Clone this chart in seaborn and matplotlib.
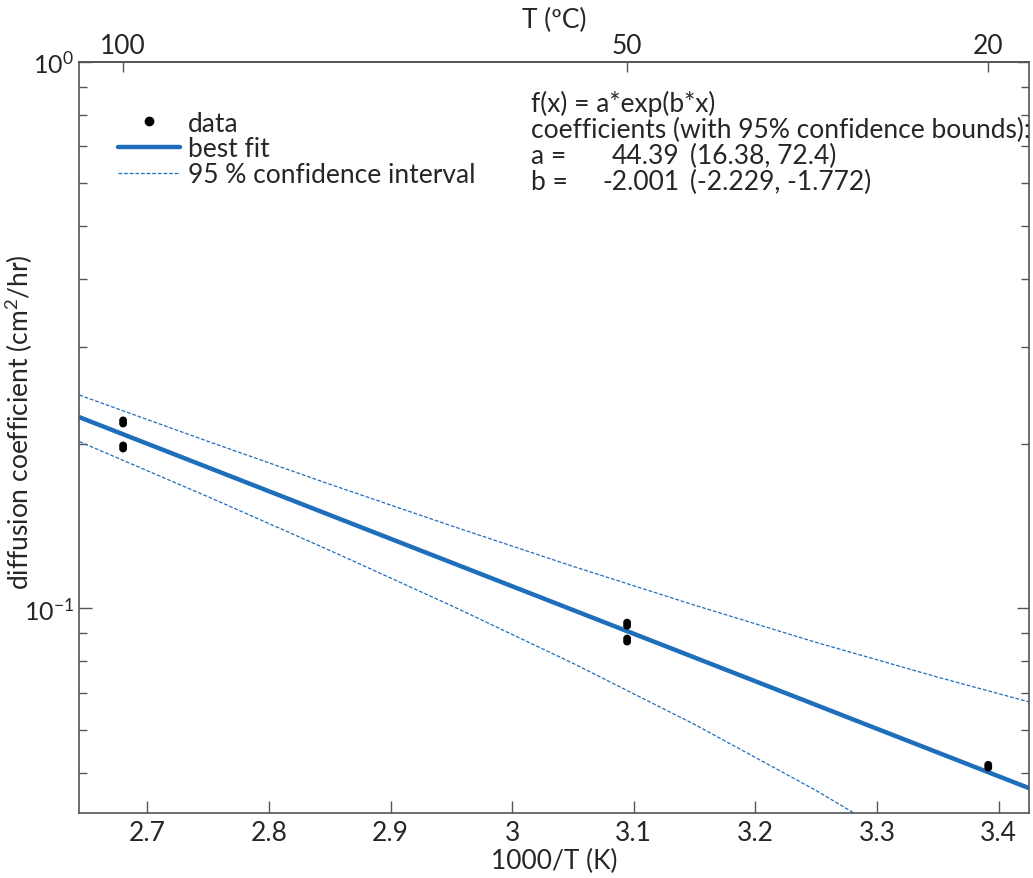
import numpy as np
import pandas as pd
import matplotlib
matplotlib.use("Agg")
import matplotlib.pyplot as plt
import seaborn as sns
from matplotlib.ticker import LogLocator, NullFormatter, FixedLocator, FixedFormatter
from matplotlib.lines import Line2D

# Measured diffusion coefficients vs inverse temperature
inv_T = [2.680, 2.680, 2.680, 2.680,
         3.0945, 3.0945, 3.0945, 3.0945,
         3.3915, 3.3915]
diff_coef = [0.2206, 0.2178, 0.1985, 0.1960,
             0.0941, 0.0929, 0.0880, 0.0869,
             0.0517, 0.0511]

# Exponential fit coefficients f(x) = a*exp(b*x)
fit_a = 44.39
fit_b = -2.001

# 95 % confidence interval bounds of the fit
band_x = [2.644, 2.75, 2.85, 2.95, 3.05, 3.15, 3.25, 3.35, 3.425]
band_upper = [0.2455, 0.2019, 0.1686, 0.1415, 0.1193, 0.1013, 0.0866, 0.0748, 0.0674]
band_lower = [0.2018, 0.1599, 0.1276, 0.1011, 0.0793, 0.0613, 0.0464, 0.0342, 0.0264]

# Celsius tick marks on the top axis
top_tick_pos = [2.680, 3.0945, 3.3915]
top_tick_labels = ["100", "50", "20"]

x_lim = (2.644, 3.425)
y_lim = (0.0422, 1.0)

sns.set_theme(style="white")
plt.rcParams["font.family"] = ["Lato", "DejaVu Sans"]
plt.rcParams["mathtext.fontset"] = "custom"
plt.rcParams["mathtext.rm"] = "Lato"
plt.rcParams["mathtext.default"] = "regular"
plt.rcParams["axes.unicode_minus"] = False

blue = "#1f6ebc"
axis_col = "#555555"
fs = 19

fig = plt.figure(figsize=(10.33, 8.79), dpi=100)
ax = fig.add_axes([0.0768, 0.0739, 0.9961 - 0.0768, 0.9287 - 0.0739])

points = pd.DataFrame({"x": inv_T, "y": diff_coef})
fit_x = np.linspace(x_lim[0], x_lim[1], 60)
fit_df = pd.DataFrame({"x": fit_x, "y": fit_a * np.exp(fit_b * fit_x)})
band_df = pd.DataFrame({"x": band_x, "upper": band_upper, "lower": band_lower})

sns.lineplot(data=band_df, x="x", y="upper", ax=ax, color=blue, lw=0.9,
             dashes=False, linestyle=(0, (3, 1.5)), sort=False)
sns.lineplot(data=band_df, x="x", y="lower", ax=ax, color=blue, lw=0.9,
             dashes=False, linestyle=(0, (3, 1.5)), sort=False)
sns.lineplot(data=fit_df, x="x", y="y", ax=ax, color=blue, lw=3.2, sort=False)
sns.scatterplot(data=points, x="x", y="y", ax=ax, color="black", s=32,
                edgecolor="none", zorder=5)

ax.set_yscale("log")
ax.set_xlim(*x_lim)
ax.set_ylim(*y_lim)

ax.xaxis.set_major_locator(FixedLocator([2.7, 2.8, 2.9, 3.0, 3.1, 3.2, 3.3, 3.4]))
ax.xaxis.set_major_formatter(FixedFormatter(["2.7", "2.8", "2.9", "3", "3.1", "3.2", "3.3", "3.4"]))
ax.yaxis.set_major_locator(LogLocator(base=10))
ax.yaxis.set_minor_locator(LogLocator(base=10, subs=np.arange(2, 10)))
ax.yaxis.set_minor_formatter(NullFormatter())

for side in ["left", "right", "top", "bottom"]:
    ax.spines[side].set_visible(True)
    ax.spines[side].set_color(axis_col)
    ax.spines[side].set_linewidth(1.2)

ax.tick_params(axis="x", which="major", direction="in", length=9, width=1,
               color=axis_col, labelsize=fs, pad=5, bottom=True, top=False)
ax.tick_params(axis="y", which="major", direction="in", length=9, width=1,
               color=axis_col, labelsize=18, pad=4, left=True, right=True)
ax.tick_params(axis="y", which="minor", direction="in", length=6, width=1,
               color=axis_col, left=True, right=True)

ax.set_xlabel("1000/T (K)", fontsize=fs, labelpad=2)
ax.set_ylabel("diffusion coefficient (cm$^2$/hr)", fontsize=fs)
ax.yaxis.set_label_coords(-0.047, 0.522)

top = ax.secondary_xaxis("top", functions=(lambda v: v, lambda v: v))
top.set_xticks(top_tick_pos)
top.set_xticklabels(top_tick_labels)
top.tick_params(direction="in", length=7, width=1, color=axis_col,
                labelsize=fs, pad=3)
top.xaxis.set_minor_locator(FixedLocator([]))
top.spines["top"].set_color(axis_col)
top.spines["top"].set_linewidth(1.2)
top.set_xlabel("T (ºC)", fontsize=fs, labelpad=4)

handles = [
    Line2D([], [], marker="o", linestyle="none", color="black", markersize=6),
    Line2D([], [], color=blue, lw=3.2),
    Line2D([], [], color=blue, lw=0.9, linestyle=(0, (3, 1.5))),
]
ax.legend(handles, ["data", "best fit", "95 % confidence interval"],
          loc="upper left", bbox_to_anchor=(0.0295, 0.949), frameon=False,
          fontsize=fs, handlelength=2.35, handletextpad=0.3, labelspacing=0.03,
          borderaxespad=0)

W, H = 1033, 879
def put(px, py, s, ha="left"):
    fig.text(px / W, 1 - py / H, s, fontsize=fs, ha=ha, va="center")

put(531, 104, "f(x) = a*exp(b*x)")
put(531, 130, "coefficients (with 95% confidence bounds):")
put(531, 156, "a =")
put(679, 156, "44.39", ha="right")
put(690, 156, "(16.38, 72.4)")
put(531, 182, "b =")
put(679, 182, "-2.001", ha="right")
put(690, 182, "(-2.229, -1.772)")

fig.savefig("out.png", dpi=100)
